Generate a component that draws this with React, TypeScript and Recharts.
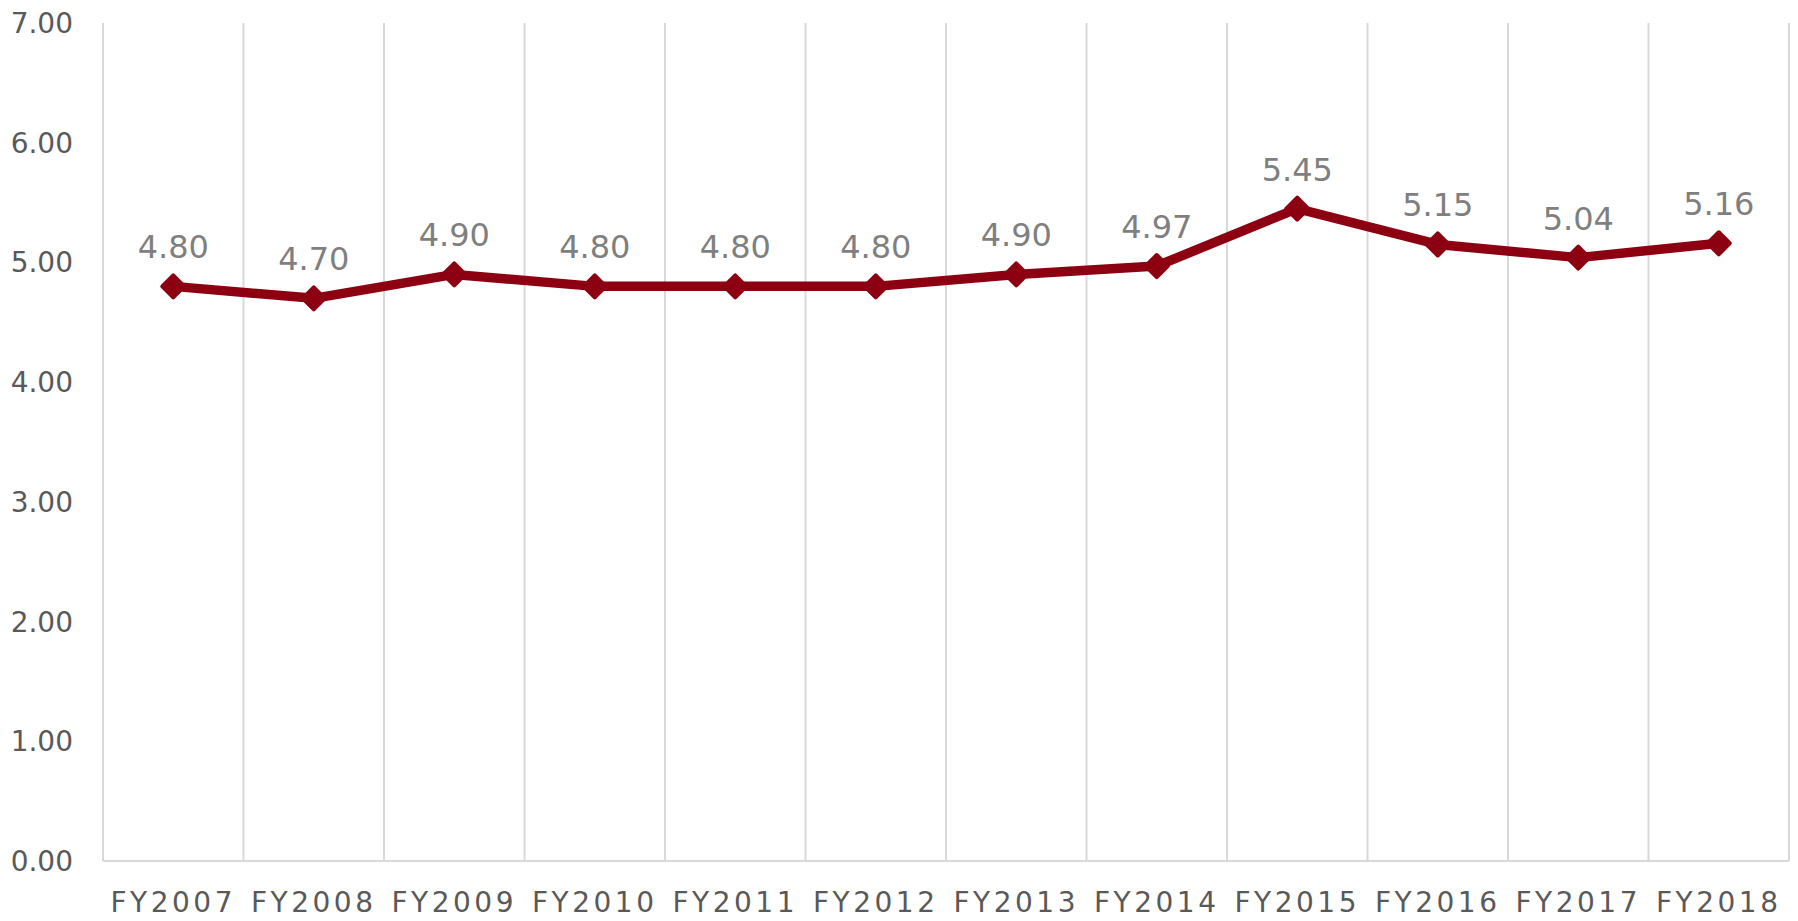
import React from 'react';
import { LineChart, Line, XAxis, YAxis, CartesianGrid, LabelList } from 'recharts';

const categories = ['FY2007', 'FY2008', 'FY2009', 'FY2010', 'FY2011', 'FY2012', 'FY2013', 'FY2014', 'FY2015', 'FY2016', 'FY2017', 'FY2018'];
const values = [4.8, 4.7, 4.9, 4.8, 4.8, 4.8, 4.9, 4.97, 5.45, 5.15, 5.04, 5.16];
const yTicks = [0, 1, 2, 3, 4, 5, 6, 7];

const data = categories.map((c, i) => ({ name: c, value: values[i] }));

const LINE_COLOR = '#8C0012';
const FONT = '"DejaVu Sans", sans-serif';

const Diamond = (props: any) => {
  const { cx, cy, index } = props;
  if (cx == null || cy == null) return null;
  const r = 11;
  return (
    <polygon
      key={`d-${index}`}
      points={`${cx},${cy - r} ${cx + r},${cy} ${cx},${cy + r} ${cx - r},${cy}`}
      fill={LINE_COLOR}
      stroke={LINE_COLOR}
      strokeWidth={4}
      strokeLinejoin="round"
    />
  );
};

const verticalGen = (args: any) => {
  const off = args && args.offset;
  if (!off) return [];
  const n = categories.length;
  const res: number[] = [];
  for (let i = 0; i <= n; i++) res.push(off.left + (i * off.width) / n);
  return res;
};

export default function App() {
  return (
    <div style={{ position: 'absolute', left: 0, top: 0, background: '#fff' }}>
      <LineChart
        width={1798}
        height={921}
        data={data}
        margin={{ top: 23, right: 9, bottom: 0, left: 0 }}
      >
        <CartesianGrid
          horizontal={false}
          vertical={true}
          stroke="#d9d9d9"
          strokeWidth={2}
          verticalCoordinatesGenerator={verticalGen}
        />
        <XAxis
          dataKey="name"
          scale="band"
          height={60}
          axisLine={{ stroke: '#d9d9d9', strokeWidth: 2 }}
          tickLine={false}
          tickSize={0}
          tickMargin={31}
          interval={0}
          tick={{ fill: '#595959', fontSize: 28, fontFamily: FONT, letterSpacing: 3.5 }}
        />
        <YAxis
          width={103}
          domain={[0, 7]}
          ticks={yTicks}
          axisLine={false}
          tickLine={false}
          tickSize={0}
          tickMargin={30}
          tickFormatter={(v: number) => v.toFixed(2)}
          tick={{ fill: '#595959', fontSize: 28, fontFamily: FONT }}
        />
        <Line
          type="linear"
          dataKey="value"
          stroke={LINE_COLOR}
          strokeWidth={9.5}
          strokeLinejoin="round"
          dot={Diamond}
          activeDot={false}
          isAnimationActive={false}
        >
          <LabelList
            dataKey="value"
            position="top"
            offset={28}
            formatter={(v: number) => v.toFixed(2)}
            style={{ fill: '#7f7f7f', fontSize: 32, fontFamily: FONT }}
          />
        </Line>
      </LineChart>
    </div>
  );
}
